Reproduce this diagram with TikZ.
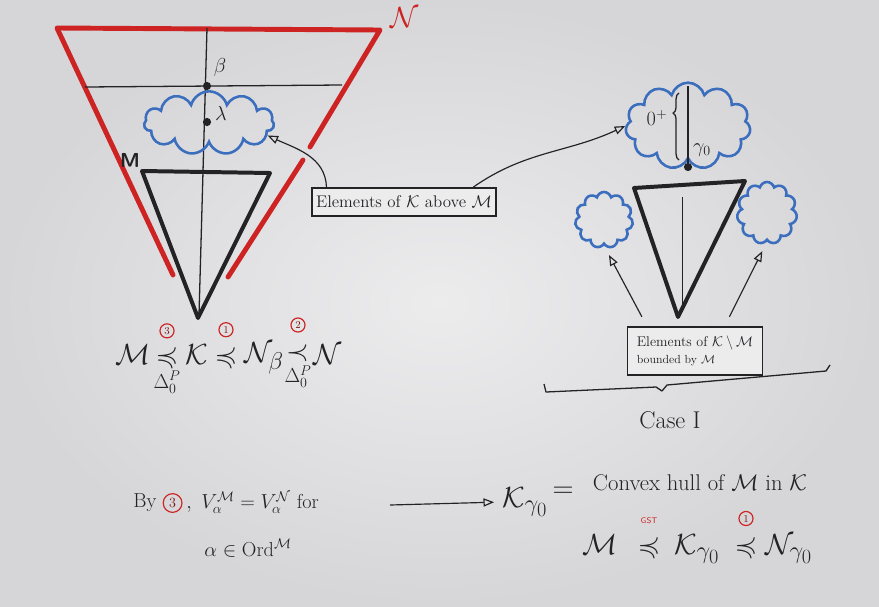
\documentclass[tikz,border=0pt]{standalone}
\usepackage{amsmath}
\usepackage{amssymb}
\usepackage{fontspec}
\usepackage{tikz}
\usetikzlibrary{arrows.meta,positioning,shapes.symbols,decorations.pathreplacing}
\definecolor{boardgray}{RGB}{214,214,217}
\definecolor{boardlight}{RGB}{236,236,237}
\definecolor{inkred}{RGB}{205,35,35}
\definecolor{inkblue}{RGB}{60,110,190}
\definecolor{inkblack}{RGB}{35,35,38}
\tikzset{
 redink/.style={draw=inkred, line width=4.2pt, line cap=round, line join=round},
 blackink/.style={draw=inkblack, line width=3.4pt, line cap=round, line join=round},
 thinink/.style={draw=inkblack, line width=1.1pt},
 blobcloud/.style={
 cloud,
 cloud puffs=11,
 cloud ignores aspect,
 draw=inkblue,
 line width=2.2pt,
 inner sep=0pt
 },
 notebox/.style={
 rectangle,
 draw=inkblack,
 line width=1.5pt,
 fill=boardlight,
 align=center,
 text=inkblack
 },
 note/.style={text=inkblack, inner sep=1pt},
 sym/.style={text=inkblack, inner sep=1pt, font=\Huge},
 greek/.style={text=inkblack, inner sep=1pt, font=\LARGE},
 circnum/.style={
 circle,
 draw=inkred,
 line width=1pt,
 text=inkred!60!black,
 minimum size=12pt,
 inner sep=0pt,
 font=\small
 },
 dot/.style={circle, fill=inkblack, minimum size=7pt, inner sep=0pt},
 openarrow/.style={-{Triangle[open,length=9pt,width=7pt]}, draw=inkblack, line width=1pt}
}

\begin{document}
\begin{tikzpicture}[x=0.03cm, y=-0.03cm, node distance=2pt]
 \shade[inner color=boardlight, outer color=boardgray] (0,0) rectangle (879,606);
 \useasboundingbox (0,0) rectangle (879,606);

 \draw[redink] (310,147) -- (380,30) -- (57,28) -- (173,275);
 \draw[redink] (303,160) -- (228,277);
 \node[sym, text=inkred] (nlabel) at (405,18) {$\mathcal{N}$};
 \draw[thinink] (85,87) -- (342,85);
 \draw[thinink] (207,28) -- (199,315);
 \draw[blackink] (142,171) -- (270,173) -- (198,318) -- cycle;
 \node[note, font=\LARGE\bfseries\sffamily] (mlabel) at (130,160) {M};

 \node[blobcloud, minimum width=3.9cm, minimum height=1.9cm] (cloudL) at (209,123) {};
 \node[dot] (beta) at (207,86) {};
 \node[greek, above right=4pt and 2pt of beta] (betalbl) {$\beta$};
 \node[dot] (lambda) at (207,122) {};
 \node[greek, right=2pt of lambda, yshift=7pt] (lambdalbl) {$\lambda$};

 \node[notebox, font=\Large, minimum width=5.46cm, minimum height=0.84cm] (boxK) at (404,202) {Elements of $\mathcal{K}$ above $\mathcal{M}$};

 \node[blobcloud, minimum width=3.75cm, minimum height=2.6cm] (cloudR) at (688,126) {};
 \node[dot] (gamma) at (688,167) {};
 \draw[thinink] ([yshift=-4pt]cloudR.north) -- (gamma);
 \draw[thinink, decorate, decoration={brace, amplitude=5pt, aspect=0.7}] (679,160) -- (679,93);
 \node[greek] (zeroplus) at (657,118) {$0^{+}$};
 \node[greek] (gammalbl) at (702,150) {$\gamma_0$};

 \draw[blackink] (634,188) -- (745,181) -- (678,317) -- cycle;
 \draw[thinink, line width=0.8pt] (682,197) -- (682,310);
 \node[blobcloud, minimum width=1.74cm, minimum height=1.68cm] (cloudSL) at (604,220) {};
 \node[blobcloud, minimum width=1.8cm, minimum height=1.86cm] (cloudSR) at (767,213) {};

 \node[notebox, font=\large, align=left, minimum width=4.05cm, minimum height=1.44cm] (boxKM) at (695,351) {Elements of $\mathcal{K}\setminus\mathcal{M}$\\{\normalsize bounded by $\mathcal{M}$}};

 \draw[openarrow] ([xshift=13pt]boxK.north west) to[out=92, in=-25] (cloudL.-12);
 \draw[openarrow] ([xshift=-20pt]boxK.north east) to[out=35, in=205] (cloudR.west);
 \draw[openarrow, shorten >=9pt] ([xshift=13pt, yshift=8pt]boxKM.north west) -- (cloudSL.south);
 \draw[openarrow, shorten >=9pt] ([xshift=-29pt, yshift=8pt]boxKM.north east) -- (cloudSR.south);

 \draw[thinink, line join=round] (544,384) -- (546,392) -- (656,387) -- (662,391) -- (667,385) -- (826,371) -- (830,365);
 \node[note, font=\huge] (case) at (670,420) {Case I};

 \node[sym] (m1) at (133,355) {$\mathcal{M}$};
 \node[sym] (r1) at (167,357) {$\preccurlyeq$};
 \node[circnum, above=5pt of r1] (c3) {3};
 \node[greek, below=0pt of r1] (d1) {$\Delta_0^{P}$};
 \node[sym] (k1) at (197,355) {$\mathcal{K}$};
 \node[sym] (r2) at (226,357) {$\preccurlyeq$};
 \node[circnum, above=6pt of r2] (c1) {1};
 \node[sym] (n1) at (264,358) {$\mathcal{N}_{\beta}$};
 \node[sym] (r3) at (298,353) {$\prec$};
 \node[circnum, above=9pt of r3] (c2) {2};
 \node[greek, below=1pt of r3] (d2) {$\Delta_0^{P}$};
 \node[sym] (n2) at (328,355) {$\mathcal{N}$};

 \node[note, font=\LARGE] (by) at (145,503) {By};
 \node[circnum, minimum size=16pt, font=\large, right=4pt of by] (c3b) {3};
 \node[note, font=\LARGE, right=2pt of c3b] (veq) {$,\ V_{\alpha}^{\mathcal{M}} = V_{\alpha}^{\mathcal{N}}$ for};
 \node[note, font=\LARGE] (ord) at (248,548) {$\alpha\in\mathrm{Ord}^{\mathcal{M}}$};

 \coordinate (arrtail) at (390,505);
 \node[sym] (kg) at (525,502) {$\mathcal{K}_{\gamma_0}$};
 \draw[openarrow, shorten >=6pt] (arrtail) -- (kg.west);
 \node[sym] (eq) at (563,492) {$=$};
 \node[note, font=\LARGE, scale=1.12] (hull) at (700,483) {Convex hull of $\mathcal{M}$ in $\mathcal{K}$};

 \node[sym] (m2) at (600,545) {$\mathcal{M}$};
 \node[sym] (r4) at (649,547) {$\preccurlyeq$};
 \node[note, font=\scriptsize\sffamily, text=inkred, above=8pt of r4] (gst) {GST};
 \node[sym] (k2) at (697,549) {$\mathcal{K}_{\gamma_0}$};
 \node[sym] (r5) at (746,547) {$\preccurlyeq$};
 \node[circnum, above=7pt of r5] (c1b) {1};
 \node[sym] (n3) at (789,549) {$\mathcal{N}_{\gamma_0}$};
\end{tikzpicture}
\end{document}
